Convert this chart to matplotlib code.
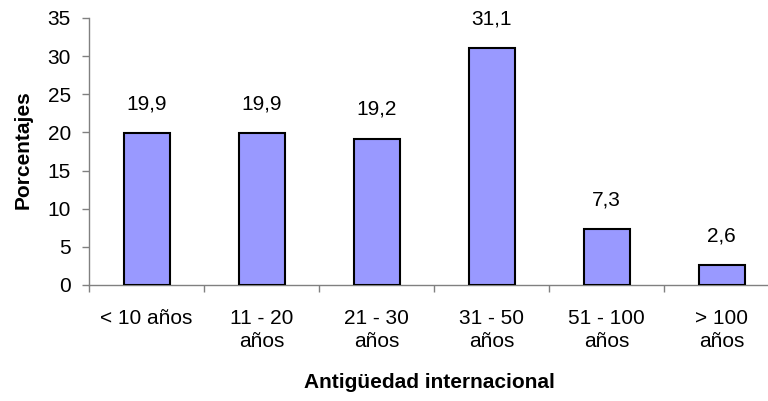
import matplotlib
matplotlib.use('Agg')
import matplotlib.pyplot as plt

plt.rcParams['font.family'] = ['Liberation Sans', 'DejaVu Sans']

categorias = ['< 10 años', '11 - 20\naños', '21 - 30\naños', '31 - 50\naños', '51 - 100\naños', '> 100\naños']
porcentajes = [19.9, 19.9, 19.2, 31.1, 7.3, 2.6]

fig = plt.figure(figsize=(7.68, 4.01), dpi=100)
ax = fig.add_axes([89 / 768, 116 / 401, 690 / 768, 267 / 401])

x = range(len(categorias))
bars = ax.bar(x, porcentajes, width=0.4, color='#9999FF', edgecolor='black', linewidth=1.5, zorder=3)

for i, v in enumerate(porcentajes):
    ax.annotate(f'{v:.1f}'.replace('.', ','), (i, v), xytext=(0, 21), textcoords='offset points',
                ha='center', va='center', fontsize=15)

ax.set_xlim(-0.5, 5.5)
ax.set_ylim(0, 35)
ax.set_yticks(range(0, 36, 5))
ax.tick_params(axis='y', labelsize=15, color='#808080', length=5, width=1, pad=8)

# ticks between the categories, labels centred under each bar
ax.set_xticks([i - 0.5 for i in range(len(categorias))])
ax.set_xticklabels([])
ax.set_xticks(list(x), minor=True)
ax.set_xticklabels(categorias, minor=True, fontsize=15, linespacing=1.3)
ax.tick_params(axis='x', which='major', color='#808080', length=5, width=1)
ax.tick_params(axis='x', which='minor', length=0, pad=17)

for s in ['top', 'right']:
    ax.spines[s].set_visible(False)
for s in ['left', 'bottom']:
    ax.spines[s].set_color('#808080')
    ax.spines[s].set_linewidth(1)

ax.set_ylabel('Porcentajes', fontsize=15, fontweight='bold')
ax.yaxis.label.set_va('center')
ax.yaxis.set_label_coords((23 - 89) / 690, (285 - 150) / 267)
ax.set_xlabel('Antigüedad internacional', fontsize=15, fontweight='bold')
ax.xaxis.label.set_va('center')
ax.xaxis.set_label_coords((429 - 89) / 690, -(382 - 285) / 267)

fig.savefig('out.png', dpi=100)
